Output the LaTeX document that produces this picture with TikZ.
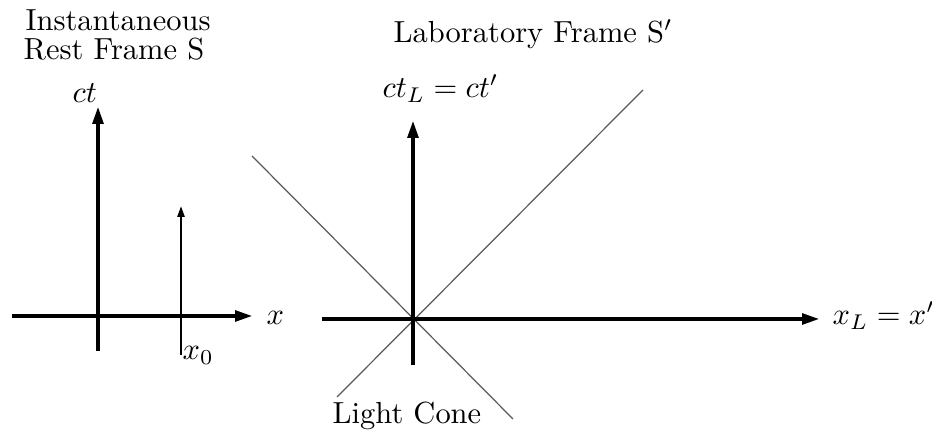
\documentclass[tikz,border=0pt]{standalone}
\usetikzlibrary{arrows.meta}
\begin{document}
\begin{tikzpicture}[x=0.328pt,y=-0.328pt,
    axis/.style={line width=1.4pt,-{Triangle[length=5.9pt,width=3.4pt]}},
    thinaxis/.style={line width=0.75pt,-{Triangle[length=3.6pt,width=2.3pt]}},
    cone/.style={black!65,line width=0.4pt},
    lbl/.style={inner sep=0pt,anchor=base west}]
  \useasboundingbox (0,0) rectangle (932,433);
  % instantaneous rest frame
  \coordinate (xs) at (12,316);   \coordinate (xe) at (253,316);
  \coordinate (cts) at (98,351);  \coordinate (cte) at (98,106);
  \coordinate (x0s) at (181,355); \coordinate (x0e) at (181,206);
  \draw[axis] (xs) -- (xe);
  \draw[axis] (cts) -- (cte);
  \draw[thinaxis] (x0s) -- (x0e);
  \node[lbl] (restA) at (25,31) {Instantaneous};
  \node[lbl] (restB) at (23,60) {Rest Frame S};
  \node[lbl] (ctlbl) at (72,103) {$ct$};
  \node[lbl] (xlbl) at (266,325) {$x$};
  \node[lbl] (x0lbl) at (182,360) {$x_0$};
  % laboratory frame
  \coordinate (xLs) at (322,319);  \coordinate (xLe) at (820,319);
  \coordinate (ctLs) at (413,365); \coordinate (ctLe) at (413,120);
  \coordinate (ca) at (252,156); \coordinate (cb) at (513,419);
  \coordinate (cc) at (337,397); \coordinate (cd) at (643,90);
  \draw[cone] (ca) -- (cb);
  \draw[cone] (cc) -- (cd);
  \draw[axis] (xLs) -- (xLe);
  \draw[axis] (ctLs) -- (ctLe);
  \node[lbl] (labframe) at (393,43) {Laboratory Frame S$'$};
  \node[lbl] (ctLlbl) at (382,98) {$ct_L = ct'$};
  \node[lbl] (xLlbl) at (832,325) {$x_L = x'$};
  \node[lbl] (conelbl) at (332,424) {Light Cone};
\end{tikzpicture}
\end{document}
